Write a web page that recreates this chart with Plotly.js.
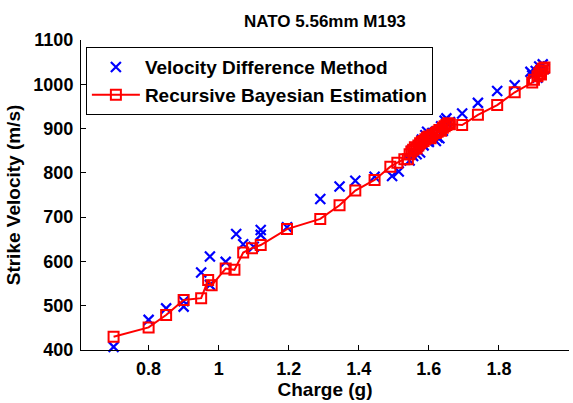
<!DOCTYPE html>
<html>
<head>
<meta charset="utf-8">
<script src="https://cdn.plot.ly/plotly-3.0.1.min.js"></script>
<style>html,body{margin:0;padding:0;background:#fff;}#chart{width:573px;height:403px;}</style>
</head>
<body>
<div id="chart"></div>
<script>
// Velocity Difference Method (blue x)
const vdmCharge = [0.70, 0.80, 0.85, 0.90, 0.90, 0.95, 0.975, 0.975, 1.02, 1.05, 1.07, 1.10, 1.12, 1.12,
  1.195, 1.29, 1.345, 1.39, 1.445, 1.495, 1.514,
  1.545, 1.55, 1.555, 1.565, 1.57, 1.575, 1.58, 1.585, 1.59, 1.595, 1.60, 1.605, 1.61, 1.62, 1.625, 1.63, 1.635, 1.64, 1.645, 1.65, 1.655, 1.66,
  1.695, 1.74, 1.795, 1.845, 1.89, 1.895, 1.905, 1.91, 1.915, 1.925, 1.93];
const vdmVel = [407, 468, 494, 498, 510, 575, 611, 547, 599, 662, 639, 633, 660, 671,
  677, 741, 769, 782, 791, 793, 803,
  828, 850, 838, 842, 860, 846, 875, 862, 885, 893, 870, 880, 890, 872, 880, 878, 905, 895, 918, 923, 910, 915,
  934, 958, 985, 998, 1028, 1020, 1030, 1015, 1040, 1045, 1035];

// Recursive Bayesian Estimation (red squares + line)
const rbeCharge = [0.70, 0.80, 0.85, 0.90, 0.95, 0.97, 0.98, 1.02, 1.045, 1.07, 1.095, 1.12,
  1.195, 1.29, 1.345, 1.39, 1.445, 1.49, 1.51, 1.53,
  1.54, 1.545, 1.55, 1.555, 1.56, 1.565, 1.57, 1.575, 1.58, 1.585, 1.59, 1.595, 1.60, 1.605, 1.61, 1.62, 1.625, 1.63, 1.635, 1.64, 1.645, 1.65, 1.655, 1.66,
  1.695, 1.74, 1.795, 1.845, 1.895, 1.90, 1.91, 1.915, 1.92, 1.92, 1.925, 1.93];
const rbeVel = [430, 451, 479, 513, 517, 558, 546, 584, 581, 620, 630, 637,
  673, 696, 727, 760, 784, 814, 823, 831,
  831, 842, 848, 852, 858, 855, 862, 867, 870, 872, 876, 880, 882, 878, 886, 890, 893, 897, 895, 902, 905, 908, 912, 910,
  908, 931, 953, 982, 1004, 1010, 1018, 1025, 1022, 1030, 1035, 1038];

const xTicks = [0.8, 1, 1.2, 1.4, 1.6, 1.8, 2];
const xTickText = ['0.8', '1', '1.2', '1.4', '1.6', '1.8', '2'];
const yTicks = [400, 500, 600, 700, 800, 900, 1000, 1100];

const FONT = 'Liberation Sans, Arial, sans-serif';

const traces = [
  {
    x: vdmCharge, y: vdmVel, type: 'scatter', mode: 'markers',
    name: 'Velocity Difference Method',
    marker: {symbol: 'x-thin-open', size: 10, color: '#0000ff', line: {color: '#0000ff', width: 2.2}},
    cliponaxis: false
  },
  {
    x: rbeCharge, y: rbeVel, type: 'scatter', mode: 'lines+markers',
    name: 'Recursive Bayesian Estimation',
    line: {color: '#ff0000', width: 2},
    marker: {symbol: 'square-open', size: 10, color: '#ff0000', line: {color: '#ff0000', width: 2}},
    cliponaxis: false
  }
];

const layout = {
  width: 573, height: 403,
  margin: {l: 81, r: 4, t: 40, b: 53},
  paper_bgcolor: '#ffffff', plot_bgcolor: '#ffffff',
  font: {family: FONT, color: '#000', size: 18, weight: 'bold'},
  title: {text: 'NATO 5.56mm M193', x: 0.567, xanchor: 'center', y: 0.947, yanchor: 'middle',
    font: {family: FONT, size: 17, weight: 'bold', color: '#000'}},
  showlegend: true,
  legend: {x: 0.01, y: 0.977, xanchor: 'left', yanchor: 'top', itemwidth: 48,
    bgcolor: '#ffffff', bordercolor: '#000', borderwidth: 1,
    font: {family: FONT, size: 19, weight: 'bold', color: '#000'}},
  xaxis: {
    range: [0.607, 2.0], tickvals: xTicks, ticktext: xTickText,
    ticks: 'inside', ticklen: 5, tickwidth: 1, tickcolor: '#000',
    showline: true, linecolor: '#000', linewidth: 1, mirror: false,
    showgrid: false, zeroline: false, ticklabelstandoff: 2,
    tickfont: {family: FONT, size: 18, weight: 'bold', color: '#000'},
    title: {text: 'Charge (g)', standoff: 3, font: {family: FONT, size: 19, weight: 'bold', color: '#000'}}
  },
  yaxis: {
    range: [400, 1100], tickvals: yTicks,
    ticks: 'inside', ticklen: 5, tickwidth: 1, tickcolor: '#000',
    showline: true, linecolor: '#000', linewidth: 1, mirror: false,
    showgrid: false, zeroline: false, ticklabelstandoff: 3,
    tickfont: {family: FONT, size: 18, weight: 'bold', color: '#000'},
    title: {text: 'Strike Velocity (m/s)', standoff: 7, font: {family: FONT, size: 19, weight: 'bold', color: '#000'}}
  }
};

Plotly.newPlot('chart', traces, layout, {displayModeBar: false, staticPlot: true});
</script>
</body>
</html>
